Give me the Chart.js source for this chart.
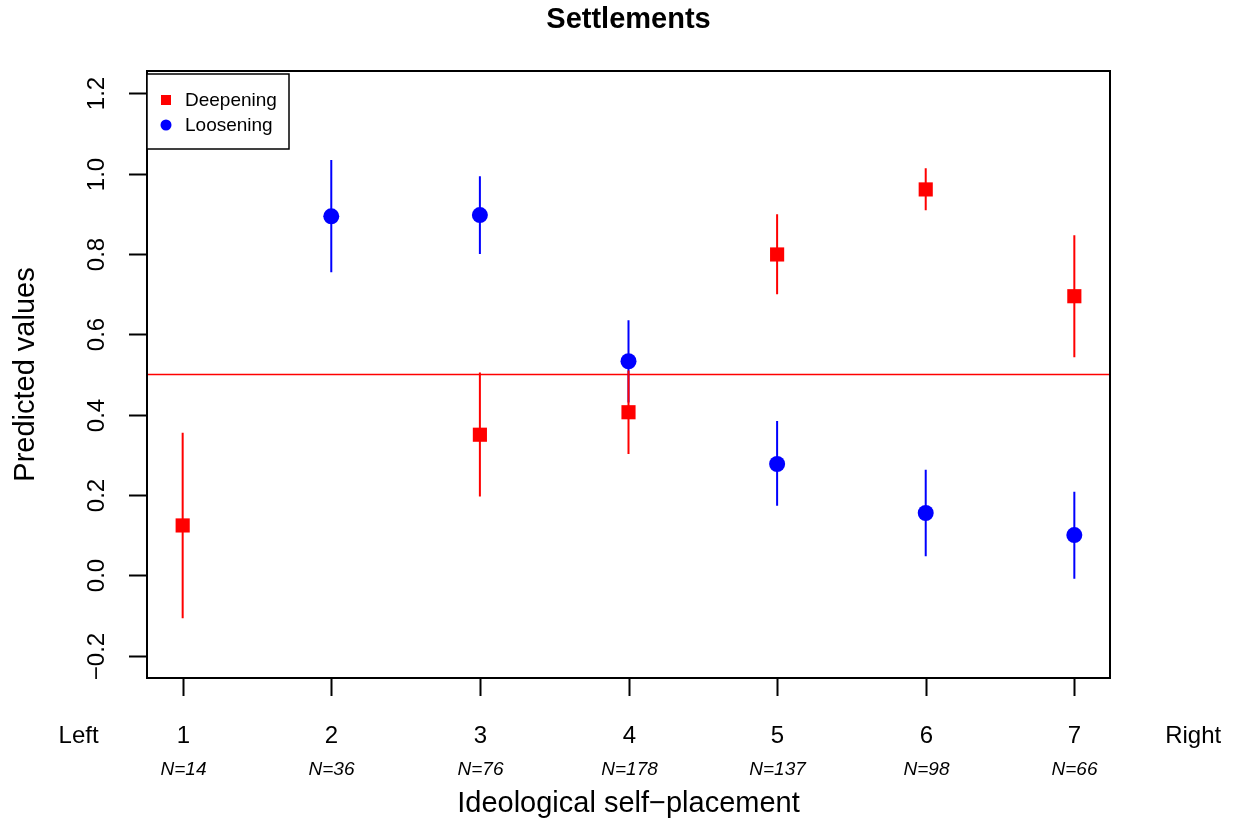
<!DOCTYPE html>
<html>
<head>
<meta charset="utf-8">
<script src="https://cdn.jsdelivr.net/npm/chart.js@4.4.0/dist/chart.umd.min.js"></script>
<style>
  html, body { margin: 0; padding: 0; background: #fff; }
  #wrap { width: 1233px; height: 820px; }
</style>
</head>
<body>
<div id="wrap"><canvas id="plot" width="1233" height="820"></canvas></div>
<script>
// x categories (ideological self-placement) and group sizes
const positions = [1, 2, 3, 4, 5, 6, 7];
const sampleSizes = [14, 36, 76, 178, 137, 98, 66];

// Deepening: predicted value with lower / upper bound
const deepX = [1, 3, 4, 5, 6, 7];
const deepFit = [0.124, 0.350, 0.406, 0.799, 0.961, 0.695];
const deepLow = [-0.107, 0.196, 0.302, 0.700, 0.909, 0.543];
const deepHigh = [0.355, 0.505, 0.510, 0.899, 1.014, 0.847];

// Loosening
const looseX = [2, 3, 4, 5, 6, 7];
const looseFit = [0.894, 0.897, 0.533, 0.277, 0.155, 0.100];
const looseLow = [0.755, 0.800, 0.430, 0.173, 0.047, -0.009];
const looseHigh = [1.034, 0.994, 0.635, 0.384, 0.263, 0.208];

// axis ticks and reference line
const yTicks = [-0.2, 0.0, 0.2, 0.4, 0.6, 0.8, 1.0, 1.2];
const refLine = 0.5;
const xMin = 0.76, xMax = 7.24;
const yMin = -0.256, yMax = 1.256;

const FONT = '"Liberation Sans", Arial, Helvetica, sans-serif';

// turn lower/upper bounds into broken line segments
function errorSegments(xs, lo, hi) {
    const pts = [];
    xs.forEach((x, i) => {
        pts.push({x: x, y: lo[i]}, {x: x, y: hi[i]}, {x: x, y: null});
    });
    return pts;
}

function points(xs, ys) {
    return xs.map((x, i) => ({x: x, y: ys[i]}));
}

// draws the R-style frame, axes, labels and legend
const baseGraphics = {
    id: 'baseGraphics',
    afterDraw(chart) {
        const ctx = chart.ctx;
        const area = chart.chartArea;
        const xs = chart.scales.x;
        const ys = chart.scales.y;
        ctx.save();
        ctx.fillStyle = '#000';
        ctx.strokeStyle = '#000';

        // plot box
        ctx.lineWidth = 2;
        ctx.strokeRect(area.left, area.top, area.right - area.left, area.bottom - area.top);

        // y axis ticks + rotated labels
        ctx.font = '24px ' + FONT;
        ctx.textAlign = 'center';
        ctx.textBaseline = 'middle';
        yTicks.forEach(v => {
            const py = Math.round(ys.getPixelForValue(v)) + 0.5;
            ctx.beginPath();
            ctx.moveTo(area.left, py);
            ctx.lineTo(area.left - 18, py);
            ctx.stroke();
            ctx.save();
            ctx.translate(97, py);
            ctx.rotate(-Math.PI / 2);
            ctx.fillText(v.toFixed(1).replace('-', '\u2212'), 0, 0);
            ctx.restore();
        });

        // x axis ticks + labels
        ctx.textBaseline = 'alphabetic';
        positions.forEach((p, i) => {
            const px = Math.round(xs.getPixelForValue(p)) + 0.5;
            ctx.beginPath();
            ctx.moveTo(px, area.bottom);
            ctx.lineTo(px, area.bottom + 18);
            ctx.stroke();
            ctx.font = '24px ' + FONT;
            ctx.fillText(String(p), px, 743);
            ctx.font = 'italic 19px ' + FONT;
            ctx.fillText('N=' + sampleSizes[i], px, 775);
        });
        ctx.font = '24px ' + FONT;
        ctx.fillText('Left', xs.getPixelForValue(0.3), 743);
        ctx.fillText('Right', xs.getPixelForValue(7.8), 743);

        // axis titles and main title
        ctx.font = '29px ' + FONT;
        ctx.fillText('Ideological self\u2212placement', (area.left + area.right) / 2, 812);
        ctx.save();
        ctx.translate(34, (area.top + area.bottom) / 2);
        ctx.rotate(-Math.PI / 2);
        ctx.fillText('Predicted values', 0, 0);
        ctx.restore();
        ctx.font = 'bold 29px ' + FONT;
        ctx.fillText('Settlements', (area.left + area.right) / 2, 28);

        // legend
        ctx.fillStyle = '#fff';
        ctx.fillRect(147, 74, 142, 75);
        ctx.lineWidth = 1.5;
        ctx.strokeRect(147, 74, 142, 75);
        ctx.fillStyle = '#ff0000';
        ctx.fillRect(161, 95, 10, 10);
        ctx.fillStyle = '#0000ff';
        ctx.beginPath();
        ctx.arc(166, 125, 5.5, 0, Math.PI * 2);
        ctx.fill();
        ctx.fillStyle = '#000';
        ctx.font = '19px ' + FONT;
        ctx.textAlign = 'left';
        ctx.textBaseline = 'middle';
        ctx.fillText('Deepening', 185, 101);
        ctx.fillText('Loosening', 185, 126);
        ctx.restore();
    }
};

new Chart(document.getElementById('plot'), {
    type: 'line',
    data: {
        datasets: [
            {
                label: 'Deepening',
                type: 'scatter',
                data: points(deepX, deepFit),
                pointStyle: 'rect',
                pointRadius: 10,
                pointBackgroundColor: '#ff0000',
                pointBorderWidth: 0,
                showLine: false,
                order: 1
            },
            {
                label: 'deepening bounds',
                data: errorSegments(deepX, deepLow, deepHigh),
                borderColor: '#ff0000',
                borderWidth: 2,
                pointRadius: 0,
                spanGaps: false,
                order: 2
            },
            {
                label: 'Loosening',
                type: 'scatter',
                data: points(looseX, looseFit),
                pointStyle: 'circle',
                pointRadius: 8,
                pointBackgroundColor: '#0000ff',
                pointBorderWidth: 0,
                showLine: false,
                order: 3
            },
            {
                label: 'loosening bounds',
                data: errorSegments(looseX, looseLow, looseHigh),
                borderColor: '#0000ff',
                borderWidth: 2,
                pointRadius: 0,
                spanGaps: false,
                order: 4
            },
            {
                label: 'reference',
                data: [{x: xMin, y: refLine}, {x: xMax, y: refLine}],
                borderColor: '#ff0000',
                borderWidth: 1.5,
                pointRadius: 0,
                order: 5
            }
        ]
    },
    options: {
        responsive: false,
        devicePixelRatio: 1,
        animation: false,
        layout: {
            padding: {left: 147, right: 123, top: 71, bottom: 142}
        },
        scales: {
            x: {type: 'linear', min: xMin, max: xMax, display: false},
            y: {type: 'linear', min: yMin, max: yMax, display: false}
        },
        plugins: {
            legend: {display: false},
            tooltip: {enabled: false}
        }
    },
    plugins: [baseGraphics]
});
</script>
</body>
</html>
